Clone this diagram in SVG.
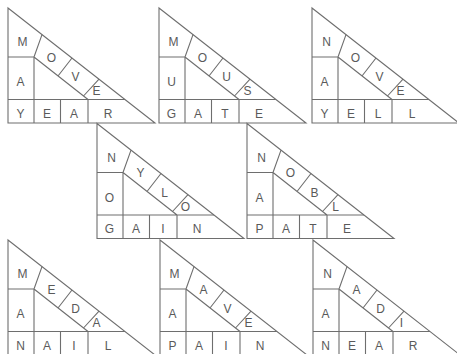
<svg xmlns="http://www.w3.org/2000/svg" xmlns:xlink="http://www.w3.org/1999/xlink" width="457" height="354" viewBox="0 0 457 354">
<style>
.ln{fill:none;stroke:#6e6e6e;stroke-width:1.1}
text{font-family:"Liberation Sans",Arial,sans-serif;font-size:12px;fill:#5a5a5a;text-anchor:middle}
</style>
<defs>
<g id="frame" class="ln">
<path d="M0,0 L147,115 L0,115 Z"/>
<path d="M0,49 H26 M34,26.6 L26,49 M26,49 V115 M26,49 L80,91.5 M0,91.5 H117 M64,50 L50,68 M91,71.2 L75.5,88 M52.5,91.5 V115 M80,91.5 V115"/>
</g>
</defs>
<rect width="457" height="354" fill="#fff"/>
<g id="t1" transform="translate(8,8)"><use href="#frame"/>
<text x="14.5" y="38">M</text><text x="43.5" y="53.5">O</text><text x="67.5" y="73">V</text><text x="88.5" y="87">E</text>
<text x="12.5" y="78">A</text><text x="12.5" y="109.5">Y</text><text x="39" y="109.5">E</text><text x="66" y="109.5">A</text><text x="100" y="109.5">R</text></g>
<g id="t2" transform="translate(159,8)"><use href="#frame"/>
<text x="14.5" y="38">M</text><text x="43.5" y="53.5">O</text><text x="67.5" y="73">U</text><text x="88.5" y="87">S</text>
<text x="12.5" y="78">U</text><text x="12.5" y="109.5">G</text><text x="39" y="109.5">A</text><text x="66" y="109.5">T</text><text x="100" y="109.5">E</text></g>
<g id="t3" transform="translate(312,8)"><use href="#frame"/>
<text x="14.5" y="38">N</text><text x="43.5" y="53.5">O</text><text x="67.5" y="73">V</text><text x="88.5" y="87">E</text>
<text x="12.5" y="78">A</text><text x="12.5" y="109.5">Y</text><text x="39" y="109.5">E</text><text x="66" y="109.5">L</text><text x="100" y="109.5">L</text></g>
<g id="t4" transform="translate(97,123.5)"><use href="#frame"/>
<text x="14.5" y="38">N</text><text x="43.5" y="53.5">Y</text><text x="67.5" y="73">L</text><text x="88.5" y="87">O</text>
<text x="12.5" y="78">O</text><text x="12.5" y="109.5">G</text><text x="39" y="109.5">A</text><text x="66" y="109.5">I</text><text x="100" y="109.5">N</text></g>
<g id="t5" transform="translate(247,123.5)"><use href="#frame"/>
<text x="14.5" y="38">N</text><text x="43.5" y="53.5">O</text><text x="67.5" y="73">B</text><text x="88.5" y="87">L</text>
<text x="12.5" y="78">A</text><text x="12.5" y="109.5">P</text><text x="39" y="109.5">A</text><text x="66" y="109.5">T</text><text x="100" y="109.5">E</text></g>
<g id="t6" transform="translate(8,240)"><use href="#frame"/>
<text x="14.5" y="38">M</text><text x="43.5" y="53.5">E</text><text x="67.5" y="73">D</text><text x="88.5" y="87">A</text>
<text x="12.5" y="78">A</text><text x="12.5" y="109.5">N</text><text x="39" y="109.5">A</text><text x="66" y="109.5">I</text><text x="100" y="109.5">L</text></g>
<g id="t7" transform="translate(160,240)"><use href="#frame"/>
<text x="14.5" y="38">M</text><text x="43.5" y="53.5">A</text><text x="67.5" y="73">V</text><text x="88.5" y="87">E</text>
<text x="12.5" y="78">A</text><text x="12.5" y="109.5">P</text><text x="39" y="109.5">A</text><text x="66" y="109.5">I</text><text x="100" y="109.5">N</text></g>
<g id="t8" transform="translate(313,240)"><use href="#frame"/>
<text x="14.5" y="38">N</text><text x="43.5" y="53.5">A</text><text x="67.5" y="73">D</text><text x="88.5" y="87">I</text>
<text x="12.5" y="78">A</text><text x="12.5" y="109.5">N</text><text x="39" y="109.5">E</text><text x="66" y="109.5">A</text><text x="100" y="109.5">R</text></g>
<g id="connectors"/>
</svg>
